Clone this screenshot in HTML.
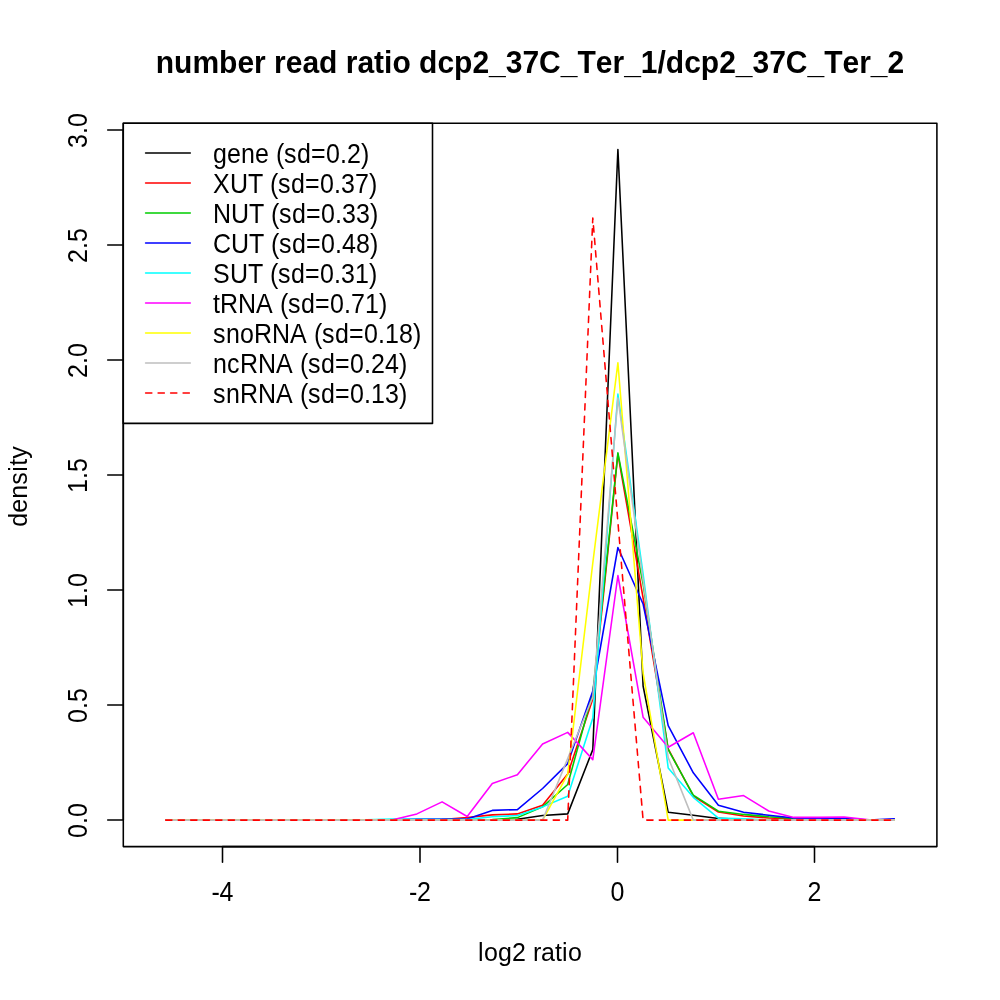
<!DOCTYPE html>
<html><head><meta charset="utf-8"><title>number read ratio</title>
<style>html,body{margin:0;padding:0;background:#fff}svg{display:block}text{font-family:"Liberation Sans",Arial,Helvetica,sans-serif;fill:#000;font-kerning:none;font-variant-ligatures:none}</style></head><body>
<svg width="1000" height="1000" viewBox="0 0 1000 1000">
<rect width="1000" height="1000" fill="#fff"/>
<g fill="none" stroke-width="1.5625" stroke-linecap="round" stroke-linejoin="round">
<polyline stroke="#000000" points="165.7,820.1 190.8,820.1 215.9,820.1 241.1,820.1 266.2,820.1 291.3,820.1 316.4,820.1 341.6,820.1 366.7,820.1 391.8,820.1 416.9,820.1 442.1,820.1 467.2,820.1 492.3,820.1 517.4,819.2 542.6,815.5 567.7,813.9 592.8,749.6 617.9,149.5 643.1,686.0 668.2,812.3 693.3,815.2 718.4,818.4 743.6,819.5 768.7,820.1 793.8,820.1 818.9,820.1 844.1,820.1 869.2,820.1 894.3,820.1"/>
<polyline stroke="#FF0000" points="165.7,820.1 190.8,820.1 215.9,820.1 241.1,820.1 266.2,820.1 291.3,820.1 316.4,820.1 341.6,820.1 366.7,820.1 391.8,820.1 416.9,820.1 442.1,819.5 467.2,817.5 492.3,814.9 517.4,813.9 542.6,805.3 567.7,774.0 592.8,699.0 617.9,454.0 643.1,598.0 668.2,748.8 693.3,796.0 718.4,812.0 743.6,816.0 768.7,818.0 793.8,819.0 818.9,820.1 844.1,820.1 869.2,820.1 894.3,820.1"/>
<polyline stroke="#00CD00" points="165.7,820.1 190.8,820.1 215.9,820.1 241.1,820.1 266.2,820.1 291.3,820.1 316.4,820.1 341.6,820.1 366.7,820.1 391.8,820.1 416.9,820.1 442.1,820.1 467.2,820.1 492.3,819.5 517.4,817.6 542.6,806.9 567.7,784.5 592.8,693.0 617.9,452.8 643.1,584.0 668.2,749.6 693.3,795.2 718.4,811.2 743.6,814.4 768.7,816.8 793.8,818.5 818.9,819.5 844.1,820.1 869.2,820.1 894.3,820.1"/>
<polyline stroke="#0000FF" points="165.7,820.1 190.8,820.1 215.9,820.1 241.1,820.1 266.2,820.1 291.3,820.1 316.4,820.1 341.6,820.1 366.7,820.1 391.8,819.8 416.9,819.1 442.1,819.0 467.2,819.0 492.3,810.4 517.4,809.6 542.6,788.5 567.7,763.6 592.8,691.0 617.9,547.5 643.1,604.0 668.2,725.6 693.3,772.8 718.4,805.3 743.6,812.3 768.7,815.2 793.8,818.0 818.9,818.4 844.1,818.6 869.2,820.0 894.3,818.8"/>
<polyline stroke="#00FFFF" points="165.7,820.1 190.8,820.1 215.9,820.1 241.1,820.1 266.2,820.1 291.3,820.1 316.4,820.1 341.6,820.1 366.7,819.9 391.8,819.0 416.9,819.4 442.1,819.6 467.2,819.5 492.3,816.8 517.4,815.5 542.6,806.9 567.7,796.3 592.8,718.0 617.9,394.0 643.1,574.0 668.2,768.0 693.3,797.3 718.4,818.1 743.6,818.7 768.7,820.1 793.8,820.1 818.9,820.1 844.1,820.1 869.2,820.1 894.3,820.1"/>
<polyline stroke="#FF00FF" points="165.7,820.1 190.8,820.1 215.9,820.1 241.1,820.1 266.2,820.1 291.3,820.1 316.4,820.1 341.6,820.1 366.7,820.1 391.8,820.1 416.9,813.9 442.1,801.9 467.2,816.5 492.3,783.5 517.4,774.7 542.6,744.0 567.7,732.4 592.8,759.6 617.9,575.5 643.1,717.2 668.2,747.2 693.3,732.8 718.4,799.2 743.6,795.6 768.7,811.0 793.8,817.4 818.9,817.4 844.1,817.0 869.2,819.8 894.3,820.1"/>
<polyline stroke="#FFFF00" points="165.7,820.1 190.8,820.1 215.9,820.1 241.1,820.1 266.2,820.1 291.3,820.1 316.4,820.1 341.6,820.1 366.7,820.1 391.8,820.1 416.9,820.1 442.1,820.1 467.2,820.1 492.3,820.1 517.4,820.1 542.6,820.1 567.7,774.4 592.8,563.0 617.9,362.8 643.1,673.0 668.2,820.1 693.3,820.1 718.4,820.1 743.6,820.1 768.7,820.1 793.8,820.1 818.9,820.1 844.1,820.1 869.2,820.1 894.3,820.1"/>
<polyline stroke="#BEBEBE" points="165.7,820.1 190.8,820.1 215.9,820.1 241.1,820.1 266.2,820.1 291.3,820.1 316.4,820.1 341.6,820.1 366.7,820.1 391.8,820.1 416.9,820.1 442.1,820.1 467.2,820.1 492.3,820.1 517.4,820.1 542.6,820.1 567.7,758.5 592.8,697.0 617.9,398.0 643.1,580.3 668.2,757.6 693.3,820.1 718.4,820.1 743.6,820.1 768.7,820.1 793.8,820.1 818.9,820.1 844.1,820.1 869.2,820.1 894.3,820.1"/>
<polyline stroke="#FF0000" stroke-dasharray="6.25 6.25" points="165.7,820.1 190.8,820.1 215.9,820.1 241.1,820.1 266.2,820.1 291.3,820.1 316.4,820.1 341.6,820.1 366.7,820.1 391.8,820.1 416.9,820.1 442.1,820.1 467.2,820.1 492.3,820.1 517.4,820.1 542.6,820.1 567.7,820.1 592.8,218.0 617.9,522.0 643.1,820.1 668.2,820.1 693.3,820.1 718.4,820.1 743.6,820.1 768.7,820.1 793.8,820.1 818.9,820.1 844.1,820.1 869.2,820.1 894.3,820.1"/>
<rect x="123.3" y="123.3" width="813.6" height="723.3000000000001" stroke="#000"/>
<path stroke="#000" d="M222.5 846.6 H814.5 M222.5 846.6 v15.6 M420 846.6 v15.6 M617.5 846.6 v15.6 M814.5 846.6 v15.6"/>
<path stroke="#000" d="M123.3 820.0 V130.0 M123.3 820.0 h-15.6 M123.3 705.0 h-15.6 M123.3 590.0 h-15.6 M123.3 475.0 h-15.6 M123.3 360.0 h-15.6 M123.3 245.0 h-15.6 M123.3 130.0 h-15.6"/>
<rect x="123.3" y="123.3" width="309.2" height="300.09999999999997" fill="#fff" stroke="#000"/>
<path stroke="#000000" d="M145.6 153 H190.3"/>
<path stroke="#FF0000" d="M145.6 183 H190.3"/>
<path stroke="#00CD00" d="M145.6 213 H190.3"/>
<path stroke="#0000FF" d="M145.6 243 H190.3"/>
<path stroke="#00FFFF" d="M145.6 273 H190.3"/>
<path stroke="#FF00FF" d="M145.6 303 H190.3"/>
<path stroke="#FFFF00" d="M145.6 333 H190.3"/>
<path stroke="#BEBEBE" d="M145.6 363 H190.3"/>
<path stroke="#FF0000" stroke-dasharray="6.25 6.25" d="M145.6 393 H190.3"/>
</g>
<g font-size="25px">
<text transform="translate(213 162.6) scale(1 1.075)" x="0 14 28 42 56 63 71 84 98 113 127 134 148">gene (sd=0.2)</text>
<text transform="translate(213 192.6) scale(1 1.075)" x="0 17 35 50 57 65 78 92 107 121 128 142 156">XUT (sd=0.37)</text>
<text transform="translate(213 222.6) scale(1 1.075)" x="0 18 36 51 58 66 79 93 108 122 129 143 157">NUT (sd=0.33)</text>
<text transform="translate(213 252.6) scale(1 1.075)" x="0 18 36 51 58 66 79 93 108 122 129 143 157">CUT (sd=0.48)</text>
<text transform="translate(213 282.6) scale(1 1.075)" x="0 17 35 50 57 65 78 92 107 121 128 142 156">SUT (sd=0.31)</text>
<text transform="translate(213 312.6) scale(1 1.075)" x="0 7 25 43 60 67 75 88 102 117 131 138 152 166">tRNA (sd=0.71)</text>
<text transform="translate(213 342.6) scale(1 1.075)" x="0 13 27 41 59 77 94 101 109 122 136 151 165 172 186 200">snoRNA (sd=0.18)</text>
<text transform="translate(213 372.6) scale(1 1.075)" x="0 14 27 45 63 80 87 95 108 122 137 151 158 172 186">ncRNA (sd=0.24)</text>
<text transform="translate(213 402.6) scale(1 1.075)" x="0 13 27 45 63 80 87 95 108 122 137 151 158 172 186">snRNA (sd=0.13)</text>
<text transform="translate(222.5 900.7) scale(1 1.08)" x="-11 -3">-4</text>
<text transform="translate(420 900.7) scale(1 1.08)" x="-11 -3">-2</text>
<text transform="translate(617.5 900.7) scale(1 1.08)" x="-7">0</text>
<text transform="translate(814.5 900.7) scale(1 1.08)" x="-7">2</text>
<text transform="translate(86.6 820.5) rotate(-90) scale(1 1.08)" x="-17.5 -3.5 3.5">0.0</text>
<text transform="translate(86.6 705.5) rotate(-90) scale(1 1.08)" x="-17.5 -3.5 3.5">0.5</text>
<text transform="translate(86.6 590.5) rotate(-90) scale(1 1.08)" x="-17.5 -3.5 3.5">1.0</text>
<text transform="translate(86.6 475.5) rotate(-90) scale(1 1.08)" x="-17.5 -3.5 3.5">1.5</text>
<text transform="translate(86.6 360.5) rotate(-90) scale(1 1.08)" x="-17.5 -3.5 3.5">2.0</text>
<text transform="translate(86.6 245.5) rotate(-90) scale(1 1.08)" x="-17.5 -3.5 3.5">2.5</text>
<text transform="translate(86.6 130.5) rotate(-90) scale(1 1.08)" x="-17.5 -3.5 3.5">3.0</text>
<text transform="translate(530 960.8) scale(1 1.035)" x="-52 -46 -32 -18 -4 3 11 25 32 38">log2 ratio</text>
<text transform="translate(26.8 486.3) rotate(-90) scale(1 1.035)" x="-40.5 -26.5 -12.5 1.5 14.5 20.5 27.5">density</text>
</g>
<text transform="translate(530 72.7) scale(1 1.05)" text-anchor="middle" font-size="30px" font-weight="bold">number read ratio dcp2_37C_Ter_1/dcp2_37C_Ter_2</text>
</svg></body></html>
